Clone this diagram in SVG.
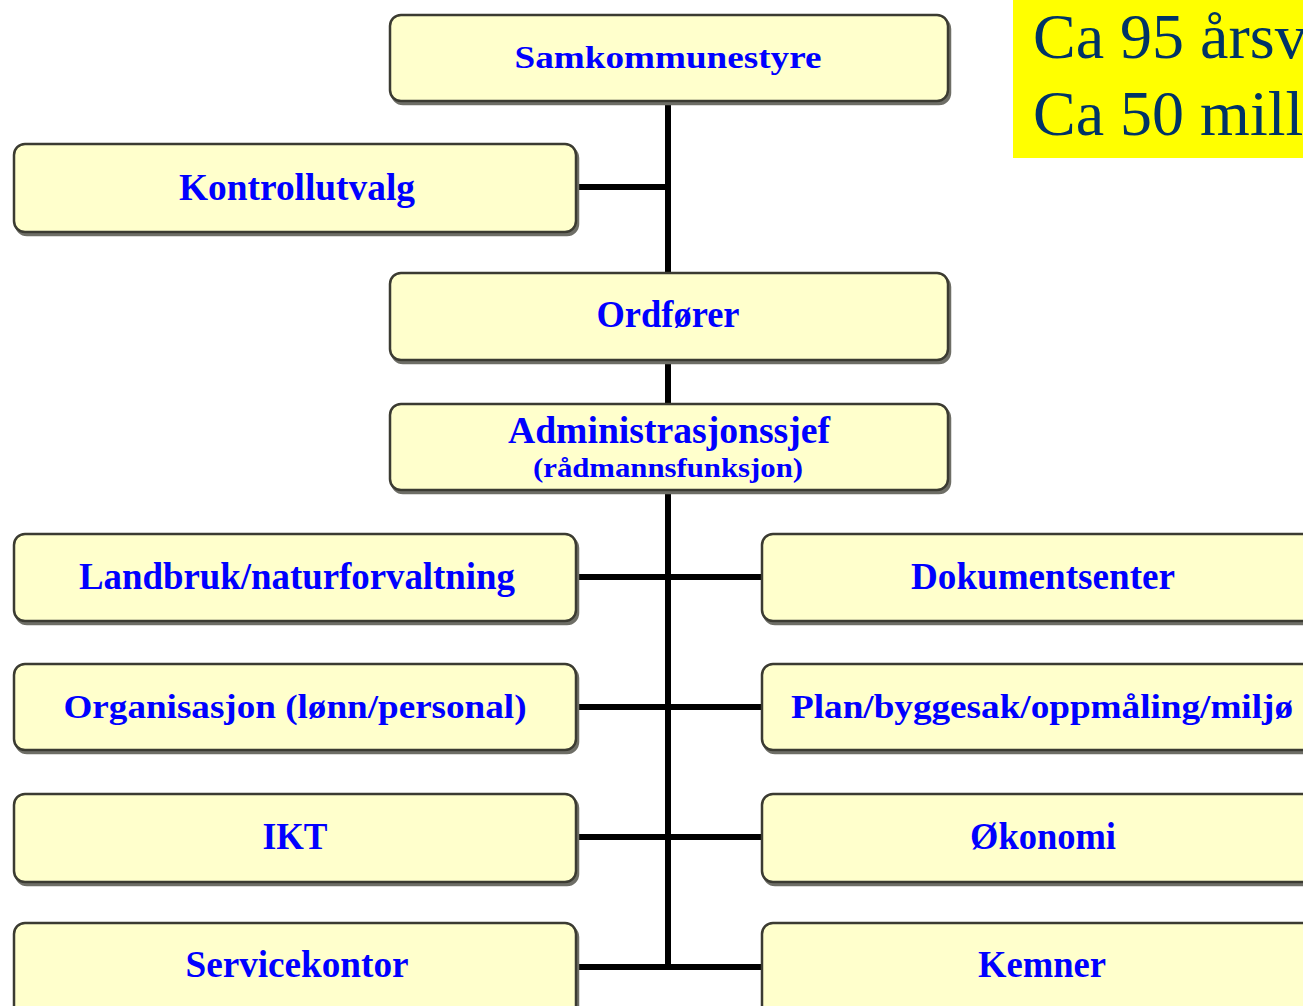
<svg xmlns="http://www.w3.org/2000/svg" width="1303" height="1006" viewBox="0 0 1303 1006">
<defs>
<filter id="sh" x="-5%" y="-10%" width="110%" height="125%">
<feDropShadow dx="2" dy="3" stdDeviation="0" flood-color="#6e6e66" flood-opacity="1"/>
</filter>
</defs>
<style>
.box{fill:#FFFFCC;stroke:#3a3a30;stroke-width:2.5;filter:url(#sh)}
.t{font-family:"Liberation Serif","Times New Roman",serif;font-weight:bold;fill:#0000FF;text-anchor:middle}
.c{stroke:#000;stroke-width:6;fill:none}
.note{font-family:"Liberation Serif","Times New Roman",serif;fill:#003366;font-size:64px}
</style>
<rect width="1303" height="1006" fill="#ffffff"/>
<g id="connectors">
<line class="c" x1="668" y1="100" x2="668" y2="969"/>
<line class="c" x1="576" y1="187" x2="668" y2="187"/>
<line class="c" x1="576" y1="577" x2="762" y2="577"/>
<line class="c" x1="576" y1="707" x2="762" y2="707"/>
<line class="c" x1="576" y1="837" x2="762" y2="837"/>
<line class="c" x1="576" y1="967" x2="762" y2="967"/>
</g>
<g id="note">
<rect x="1013" y="0" width="300" height="158" fill="#FFFF00"/>
<text class="note" x="1033" y="58">Ca 95 årsv</text>
<text class="note" x="1033" y="135">Ca 50 mill</text>
</g>
<g id="samkommunestyre">
<rect class="box" x="390" y="15" width="558" height="86" rx="11"/>
<text class="t" x="668" y="68" font-size="32" textLength="307" lengthAdjust="spacingAndGlyphs">Samkommunestyre</text>
</g>
<g id="kontrollutvalg">
<rect class="box" x="14" y="144" width="562" height="88" rx="11"/>
<text class="t" x="297" y="200" font-size="38" textLength="236" lengthAdjust="spacingAndGlyphs">Kontrollutvalg</text>
</g>
<g id="ordforer">
<rect class="box" x="390" y="273" width="558" height="87" rx="11"/>
<text class="t" x="668" y="327" font-size="38" textLength="143" lengthAdjust="spacingAndGlyphs">Ordfører</text>
</g>
<g id="administrasjonssjef">
<rect class="box" x="390" y="404" width="558" height="86" rx="11"/>
<text class="t" x="669" y="443" font-size="37" textLength="322" lengthAdjust="spacingAndGlyphs">Administrasjonssjef</text>
<text class="t" x="668" y="477" font-size="28" textLength="270" lengthAdjust="spacingAndGlyphs">(rådmannsfunksjon)</text>
</g>
<g id="landbruk">
<rect class="box" x="14" y="534" width="562" height="87" rx="11"/>
<text class="t" x="297" y="589" font-size="38" textLength="436" lengthAdjust="spacingAndGlyphs">Landbruk/naturforvaltning</text>
</g>
<g id="dokumentsenter">
<rect class="box" x="762" y="534" width="560" height="87" rx="11"/>
<text class="t" x="1043" y="589" font-size="38" textLength="264" lengthAdjust="spacingAndGlyphs">Dokumentsenter</text>
</g>
<g id="organisasjon">
<rect class="box" x="14" y="664" width="562" height="86" rx="11"/>
<text class="t" x="295" y="718" font-size="34" textLength="463" lengthAdjust="spacingAndGlyphs">Organisasjon (lønn/personal)</text>
</g>
<g id="plan">
<rect class="box" x="762" y="664" width="560" height="86" rx="11"/>
<text class="t" x="1042" y="718" font-size="34" textLength="502" lengthAdjust="spacingAndGlyphs">Plan/byggesak/oppmåling/miljø</text>
</g>
<g id="ikt">
<rect class="box" x="14" y="794" width="562" height="88" rx="11"/>
<text class="t" x="295" y="849" font-size="38" textLength="65" lengthAdjust="spacingAndGlyphs">IKT</text>
</g>
<g id="okonomi">
<rect class="box" x="762" y="794" width="560" height="88" rx="11"/>
<text class="t" x="1043" y="849" font-size="38" textLength="146" lengthAdjust="spacingAndGlyphs">Økonomi</text>
</g>
<g id="servicekontor">
<rect class="box" x="14" y="923" width="562" height="95" rx="11"/>
<text class="t" x="297" y="977" font-size="38" textLength="223" lengthAdjust="spacingAndGlyphs">Servicekontor</text>
</g>
<g id="kemner">
<rect class="box" x="762" y="923" width="560" height="95" rx="11"/>
<text class="t" x="1042" y="977" font-size="38" textLength="128" lengthAdjust="spacingAndGlyphs">Kemner</text>
</g>
</svg>
